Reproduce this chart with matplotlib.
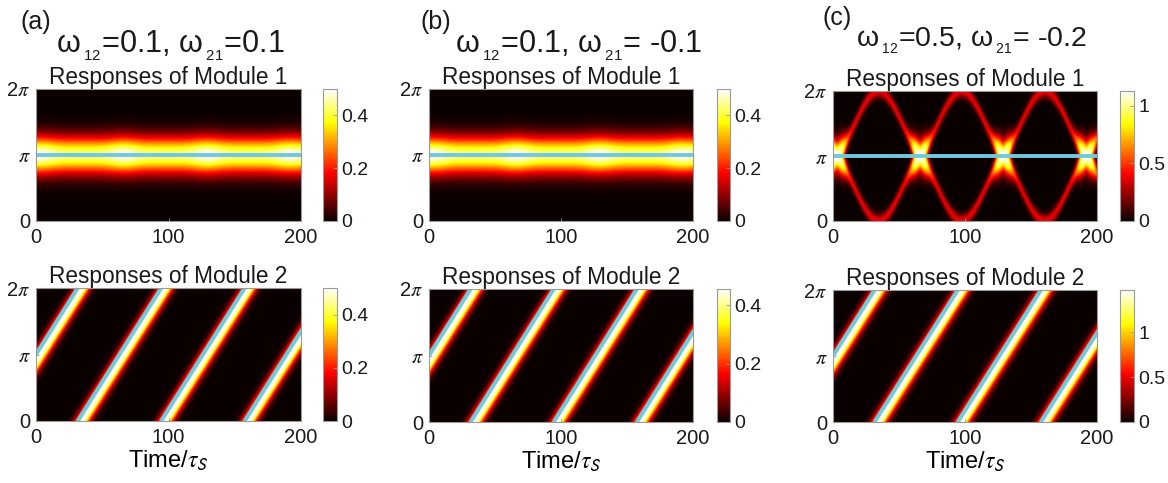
import numpy as np
import matplotlib.pyplot as plt

plt.rcParams['font.family'] = ['Liberation Sans', 'DejaVu Sans']
plt.rcParams['mathtext.fontset'] = 'custom'
plt.rcParams['mathtext.rm'] = 'Liberation Sans'
plt.rcParams['mathtext.it'] = 'Liberation Sans:italic'
plt.rcParams['text.color'] = '#1a1a1a'
plt.rcParams['xtick.color'] = '#1a1a1a'
plt.rcParams['ytick.color'] = '#1a1a1a'

# coupling strengths of the three cases
panel_tags = ['(a)', '(b)', '(c)']
w12 = ['0.1', '0.1', '0.5']
w21 = ['0.1', ' -0.1', ' -0.2']

# colour-scale maxima (module 1, module 2) and colourbar ticks
cmax_m1 = [0.50, 0.50, 1.13]
cmax_m2 = [0.50, 0.455, 1.47]
cticks = [[0, 0.2, 0.4], [0, 0.2, 0.4], [0, 0.5, 1]]

# bump dynamics
t_end = 200.0
period = 63.0          # rotation period of the module-2 bump
start_phase = np.pi    # initial bump position
bump_sigma = 0.60      # width of the module-1 bump (rad)
lump_depth = 0.12      # periodic brightening of module 1 in (a), (b)
lump_shift = 3.0       # delay of the brightening after module 2 passes pi
stripe_sigma = 0.40    # width of the travelling module-2 bump (rad)
stripe_lag = 0.34      # bump peak trails the decoded position slightly
trace_level = 0.38     # strength of the module-2 imprint in module 1 of (c)
trace_sigma = 0.22
trace_bend = 1.3
spot_sigma = 0.5

t = np.linspace(0, t_end, 801)
theta = np.linspace(0, 2 * np.pi, 300)
T, TH = np.meshgrid(t, theta)


def wrap(x):
    return (x + np.pi) % (2 * np.pi) - np.pi


def module1_field(col):
    if col < 2:
        lump = 1 - lump_depth + lump_depth * ((1 + np.cos(2 * np.pi * (T - lump_shift) / period)) / 2) ** 3
        sig = bump_sigma * (0.92 + 0.1 * lump)
        return cmax_m1[col] * lump * np.exp(-(TH - np.pi) ** 2 / (2 * sig ** 2))
    # strong coupling: the passing module-2 bump and its mirror image about pi
    field = np.zeros_like(T)
    for k in range(-1, 5):
        tk = k * period + lump_shift
        d = 2 * np.pi * (T - tk) / period
        inside = np.abs(d) <= np.pi
        u = np.clip(np.abs(d) / np.pi, 0, 1)
        shift = np.sign(d) * np.pi * np.sin(np.pi / 2 * u ** trace_bend)
        near = np.exp(-shift ** 2 / (2 * spot_sigma ** 2))
        amp = trace_level + (cmax_m1[2] - trace_level) * near
        sig = trace_sigma + 0.28 * near
        for psi in (np.pi + shift, np.pi - shift):
            part = amp * np.exp(-(TH - psi) ** 2 / (2 * sig ** 2))
            field = np.maximum(field, np.where(inside, part, 0))
    return field


def module2_field(col):
    phi = (start_phase + 2 * np.pi * T / period) - stripe_lag
    d = wrap(TH - phi)
    return cmax_m2[col] * np.exp(-d ** 2 / (2 * stripe_sigma ** 2))


W, H = 1168, 483
fig = plt.figure(figsize=(W / 100, H / 100), dpi=100)


def box(x0, y0, x1, y1):
    return [x0 / W, 1 - y1 / H, (x1 - x0) / W, (y1 - y0) / H]


ax_x = [(36, 301), (429, 693), (833, 1097)]
cb_x = [(323, 337), (717, 730), (1120, 1134)]
row_y = [[(89, 221), (89, 221), (91, 221)], [(288, 421), (289, 422), (290, 422)]]
tag_xy = [(20, 22), (420, 22), (823, 18)]
title_xy = [(170, 46), (579, 46), (971, 41)]
title_size = [22, 22, 20.5]

cyan = '#6ccbe0'
spine_col = '#9a9a9a'

for col in range(3):
    fields = [module1_field(col), module2_field(col)]
    vmaxes = [cmax_m1[col], cmax_m2[col]]
    for row in range(2):
        y0, y1 = row_y[row][col]
        ax = fig.add_axes(box(ax_x[col][0], y0, ax_x[col][1], y1))
        im = ax.imshow(fields[row], cmap='hot', origin='lower', aspect='auto',
                       extent=[0, t_end, 0, 2 * np.pi], vmin=0, vmax=vmaxes[row],
                       interpolation='bilinear')
        if row == 0:
            ax.plot([0, t_end], [np.pi, np.pi], color=cyan, lw=2.8, solid_capstyle='butt')
        else:
            for k in range(5):
                ts = -period / 2 + k * period
                ax.plot([ts, ts + period], [0, 2 * np.pi], color=cyan, lw=2.8,
                        solid_capstyle='butt')
        ax.set_xlim(0, t_end)
        ax.set_ylim(0, 2 * np.pi)
        ax.set_xticks([0, 100, 200])
        ax.set_yticks([0, np.pi, 2 * np.pi])
        ylabels = ax.set_yticklabels(['0', r'$\pi$', r'2$\pi$'])
        for lab in ylabels:
            lab.set_math_fontfamily('stix')
        ax.tick_params(labelsize=14.5, direction='in', length=2, width=0.6,
                       color=spine_col)
        ax.tick_params(axis='x', pad=5)
        ax.tick_params(axis='y', pad=4)
        for s in ax.spines.values():
            s.set_color(spine_col)
            s.set_linewidth(0.8)
        ax.set_title('Responses of Module %d' % (row + 1), fontsize=16.3, pad=1)
        if row == 1:
            ax.set_xlabel(r'Time/$\tau_{\mathsf{S}}$', fontsize=17, labelpad=1,
                          math_fontfamily='stix')

        cax = fig.add_axes(box(cb_x[col][0], y0, cb_x[col][1], y1))
        cb = fig.colorbar(im, cax=cax, ticks=cticks[col])
        cb.ax.set_yticklabels([('%g' % v) for v in cticks[col]])
        cb.ax.tick_params(labelsize=14, direction='in', length=3, width=0.6,
                          color=spine_col, pad=3)
        cb.outline.set_edgecolor(spine_col)
        cb.outline.set_linewidth(0.8)

    fig.text(tag_xy[col][0] / W, 1 - tag_xy[col][1] / H, panel_tags[col],
             fontsize=18, ha='left', va='center')
    fig.text(title_xy[col][0] / W, 1 - title_xy[col][1] / H,
             r'$\mathrm{\omega}_{\,_{12}}$=%s, $\mathrm{\omega}_{\,_{21}}$=%s' % (w12[col], w21[col]),
             fontsize=title_size[col], ha='center', va='center')

fig.savefig('out.png', dpi=100)
